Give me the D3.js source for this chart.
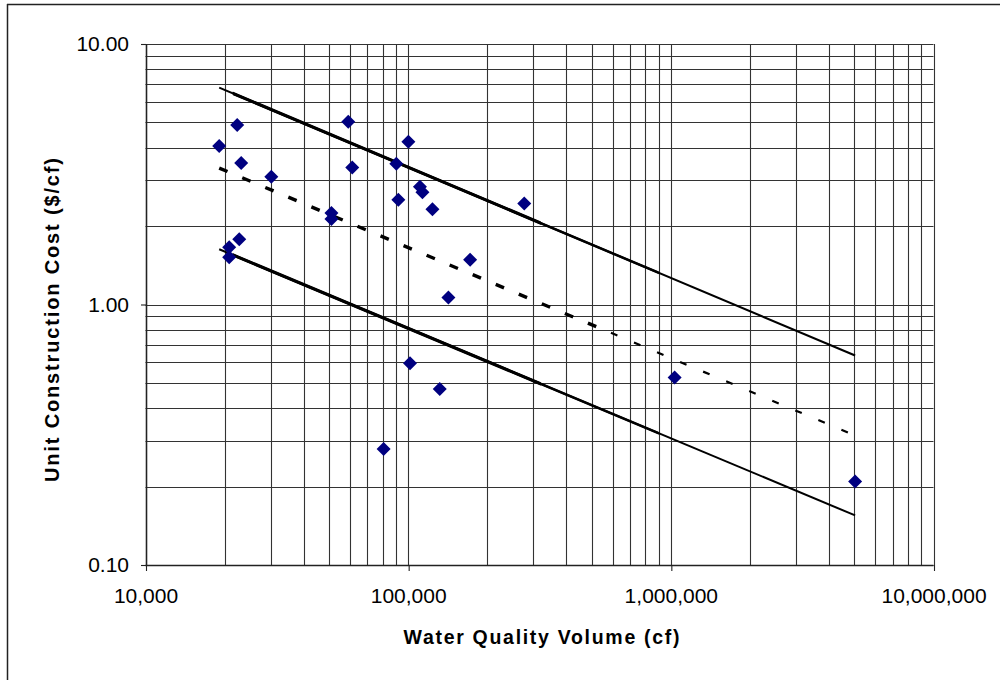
<!DOCTYPE html>
<html>
<head>
<meta charset="utf-8">
<script src="https://cdn.jsdelivr.net/npm/d3@7/dist/d3.min.js"></script>
<style>
  html, body { margin: 0; padding: 0; background: #fff; }
  svg { display: block; font-family: "Liberation Sans", Arial, sans-serif; }
</style>
</head>
<body>
<svg id="chart" width="1000" height="680"></svg>
<script>
// ---- Data ----
const volumes = [19080, 22340, 23140, 20830, 20830, 22750, 30130, 51050, 51050, 59130,
                 61240, 90150, 100200, 91750, 110900, 113300, 123700, 276700, 172100, 142300,
                 101600, 131900, 80640, 1034000, 5030000];
const unitCosts = [4.06, 4.89, 3.49, 1.66, 1.52, 1.78, 3.09, 2.245, 2.13, 5.03,
                   3.36, 3.47, 4.21, 2.525, 2.83, 2.70, 2.32, 2.44, 1.486, 1.065,
                   0.595, 0.474, 0.279, 0.524, 0.209];

const lineX = [19080, 5030000];
const upperY = [6.80, 0.637];
const trendY = [3.34, 0.314];
const lowerY = [1.63, 0.155];

const xTickValues = [10000, 100000, 1000000, 10000000];
const xTickLabels = ["10,000", "100,000", "1,000,000", "10,000,000"];
const yTickValues = [0.1, 1, 10];
const yTickLabels = ["0.10", "1.00", "10.00"];

const xTitle = "Water Quality Volume (cf)";
const yTitle = "Unit Construction Cost ($/cf)";

// ---- Layout ----
const svg = d3.select("#chart");
const L = 145.5, R = 933.5, T = 44, B = 565;

const x = d3.scaleLog().domain([1e4, 1e7]).range([L, R]);
const y = d3.scaleLog().domain([0.1, 10]).range([B, T]);
const crisp = v => Math.round(v) + 0.5;

// outer frame (left + top)
svg.append("line").attr("x1", 7.5).attr("x2", 7.5).attr("y1", 4).attr("y2", 680)
  .attr("stroke", "#222").attr("stroke-width", 1.5);
svg.append("line").attr("x1", 7).attr("x2", 1000).attr("y1", 4.5).attr("y2", 4.5)
  .attr("stroke", "#222").attr("stroke-width", 1.5);

// grid
const grid = svg.append("g").attr("stroke", "#333").attr("stroke-width", 1.1);
grid.selectAll("line.v").data(x.ticks()).join("line")
  .attr("x1", d => crisp(x(d))).attr("x2", d => crisp(x(d)))
  .attr("y1", T).attr("y2", B);
grid.selectAll("line.h").data(y.ticks()).join("line")
  .attr("y1", d => crisp(y(d))).attr("y2", d => crisp(y(d)))
  .attr("x1", L).attr("x2", R);

// axes
const xAxis = d3.axisBottom(x).tickValues(xTickValues)
  .tickFormat((d, i) => xTickLabels[i]).tickSize(6).tickPadding(17);
const yAxis = d3.axisLeft(y).tickValues(yTickValues)
  .tickFormat((d, i) => yTickLabels[i]).tickSize(5).tickPadding(12);

const gx = svg.append("g").attr("transform", `translate(0,${crisp(B) - 0.5})`).call(xAxis);
const gy = svg.append("g").attr("transform", `translate(${crisp(L) - 0.5},0)`).call(yAxis);
[gx, gy].forEach(g => {
  g.select(".domain").attr("stroke", "#222").attr("stroke-width", 1.5);
  g.selectAll(".tick line").attr("stroke", "#222").attr("stroke-width", 1.1);
  g.selectAll(".tick text").attr("fill", "#000")
    .style("font-family", '"Liberation Sans", Arial, sans-serif').style("font-size", "21px");
});
gx.select(".domain").attr("d", `M${L},0.5H${R}`);
gy.select(".domain").attr("d", `M0.5,${T}V${B}`);
gx.selectAll(".tick line").attr("transform", "translate(0.5,0)");

// clip paths for thick segments
const defs = svg.append("defs");
defs.append("clipPath").attr("id", "clipThick").append("rect")
  .attr("x", x(21500)).attr("width", x(320000) - x(21500)).attr("y", 0).attr("height", 680);
defs.append("clipPath").attr("id", "clipMid").append("rect")
  .attr("x", x(21500)).attr("width", x(900000) - x(21500)).attr("y", 0).attr("height", 680);
defs.append("clipPath").attr("id", "clipDashThick").append("rect")
  .attr("x", 0).attr("width", x(550000)).attr("y", 0).attr("height", 680);
defs.append("clipPath").attr("id", "clipDashThin").append("rect")
  .attr("x", x(550000)).attr("width", 1000 - x(550000)).attr("y", 0).attr("height", 680);

const lineGen = d3.line().x(d => x(d[0])).y(d => y(d[1]));
const upper = lineX.map((v, i) => [v, upperY[i]]);
const lower = lineX.map((v, i) => [v, lowerY[i]]);
const trend = lineX.map((v, i) => [v, trendY[i]]);

const lines = svg.append("g").attr("fill", "none").attr("stroke", "#000");
[upper, lower].forEach(dd => {
  lines.append("path").attr("d", lineGen(dd)).attr("stroke-width", 2);
  lines.append("path").attr("d", lineGen(dd)).attr("stroke-width", 2.5)
    .attr("clip-path", "url(#clipMid)");
  lines.append("path").attr("d", lineGen(dd)).attr("stroke-width", 3.2)
    .attr("clip-path", "url(#clipThick)");
});
lines.append("path").attr("d", lineGen(trend)).attr("stroke-width", 3.4)
  .attr("stroke-dasharray", "9,16").attr("clip-path", "url(#clipDashThick)");
lines.append("path").attr("d", lineGen(trend)).attr("stroke-width", 2.2)
  .attr("stroke-dasharray", "7,18").attr("clip-path", "url(#clipDashThin)");

// points (diamonds)
const r = 7;
svg.append("g").selectAll("path").data(volumes).join("path")
  .attr("transform", (d, i) => `translate(${x(d)},${y(unitCosts[i])})`)
  .attr("d", `M0,${-r}L${r},0L0,${r}L${-r},0Z`)
  .attr("fill", "#000080");

// titles
svg.append("text").attr("x", (L + R) / 2 + 2).attr("y", 644)
  .attr("text-anchor", "middle").attr("font-weight", "bold").attr("font-size", 19.5)
  .attr("textLength", 276).attr("lengthAdjust", "spacing")
  .text(xTitle);
svg.append("text").attr("transform", "translate(59,320) rotate(-90)")
  .attr("text-anchor", "middle").attr("font-weight", "bold").attr("font-size", 20)
  .attr("textLength", 324).attr("lengthAdjust", "spacing")
  .text(yTitle);
</script>
</body>
</html>
